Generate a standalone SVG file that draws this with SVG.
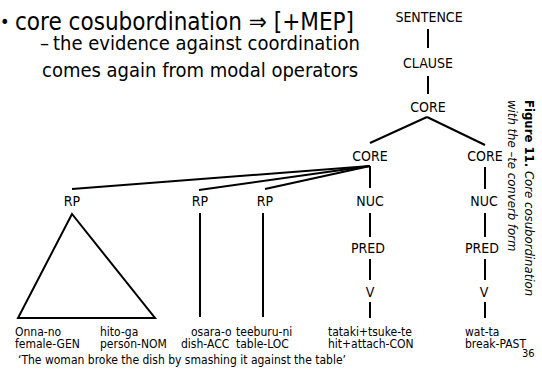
<svg xmlns="http://www.w3.org/2000/svg" width="542" height="371" viewBox="0 0 542 371">
<style>
text{font-family:"DejaVu Sans Condensed","DejaVu Sans",sans-serif;font-stretch:condensed;fill:#000}
.t1{font-size:24px}
.t2{font-size:20px}
.n{font-size:14px;text-anchor:middle}
.g{font-size:12px}
.c{font-size:13px;font-style:italic}
.b{font-weight:bold}
.e{stroke:#000;stroke-width:2;fill:none}
</style>
<rect width="542" height="371" fill="#fff"/>
<g id="title">
<text x="0" y="28" style="font-size:18px">•</text>
<text class="t1" x="15" y="30">core cosubordination ⇒ [+MEP]</text>
<text class="t2" x="40" y="50">–</text>
<text class="t2" x="53" y="50">the evidence against coordination</text>
<text class="t2" x="42" y="77">comes again from modal operators</text>
</g>
<g id="connectors" class="e">
<line x1="428" y1="29" x2="428" y2="48"/>
<line x1="428" y1="76" x2="428" y2="94"/>
<line x1="427" y1="117" x2="370" y2="143"/>
<line x1="427" y1="117" x2="485" y2="145"/>
<line x1="370" y1="166" x2="72" y2="189"/>
<line x1="370" y1="166" x2="199" y2="190"/>
<line x1="370" y1="166" x2="265" y2="189"/>
<line x1="370" y1="166" x2="370" y2="188"/>
<line x1="485" y1="167" x2="485" y2="189"/>
<line x1="370" y1="213" x2="370" y2="237"/>
<line x1="485" y1="213" x2="485" y2="237"/>
<line x1="370" y1="259" x2="370" y2="280"/>
<line x1="485" y1="259" x2="485" y2="280"/>
<line x1="370" y1="302" x2="370" y2="318"/>
<line x1="485" y1="302" x2="485" y2="318"/>
<line x1="200" y1="213" x2="200" y2="317"/>
<line x1="263" y1="213" x2="263" y2="317"/>
<polygon points="72,214 18,318 155,318"/>
</g>
<g id="sentence"><text class="n" x="429" y="22">SENTENCE</text></g>
<g id="clause"><text class="n" x="428" y="68">CLAUSE</text></g>
<g id="core-top"><text class="n" x="428" y="112">CORE</text></g>
<g id="core-left"><text class="n" x="370" y="161">CORE</text></g>
<g id="core-right"><text class="n" x="485" y="161">CORE</text></g>
<g id="rp1"><text class="n" x="72" y="206">RP</text></g>
<g id="rp2"><text class="n" x="200" y="206">RP</text></g>
<g id="rp3"><text class="n" x="265" y="206">RP</text></g>
<g id="nuc-left"><text class="n" x="370" y="206">NUC</text></g>
<g id="nuc-right"><text class="n" x="484" y="206">NUC</text></g>
<g id="pred-left"><text class="n" x="368" y="253">PRED</text></g>
<g id="pred-right"><text class="n" x="482" y="253">PRED</text></g>
<g id="v-left"><text class="n" x="370" y="297">V</text></g>
<g id="v-right"><text class="n" x="484" y="297">V</text></g>
<g id="gloss">
<text class="g" x="15" y="336">Onna-no</text>
<text class="g" x="15" y="348">female-GEN</text>
<text class="g" x="100" y="336">hito-ga</text>
<text class="g" x="100" y="348">person-NOM</text>
<text class="g" x="191" y="336">osara-o</text>
<text class="g" x="181" y="348">dish-ACC</text>
<text class="g" x="236" y="336">teeburu-ni</text>
<text class="g" x="236" y="348">table-LOC</text>
<text class="g" x="328" y="336">tataki+tsuke-te</text>
<text class="g" x="328" y="348">hit+attach-CON</text>
<text class="g" x="465" y="336">wat-ta</text>
<text class="g" x="465" y="348">break-PAST</text>
<text class="g" x="18" y="364">‘The woman broke the dish by smashing it against the table’</text>
<text class="g" x="522" y="357" style="font-size:11px">36</text>
</g>
<g id="caption" transform="translate(525,100) rotate(90)">
<text class="c" x="0" y="0"><tspan class="b" style="font-style:normal">Figure 11.</tspan> Core cosubordination</text>
<text class="c" x="0" y="17">with the –te converb form</text>
</g>
</svg>
